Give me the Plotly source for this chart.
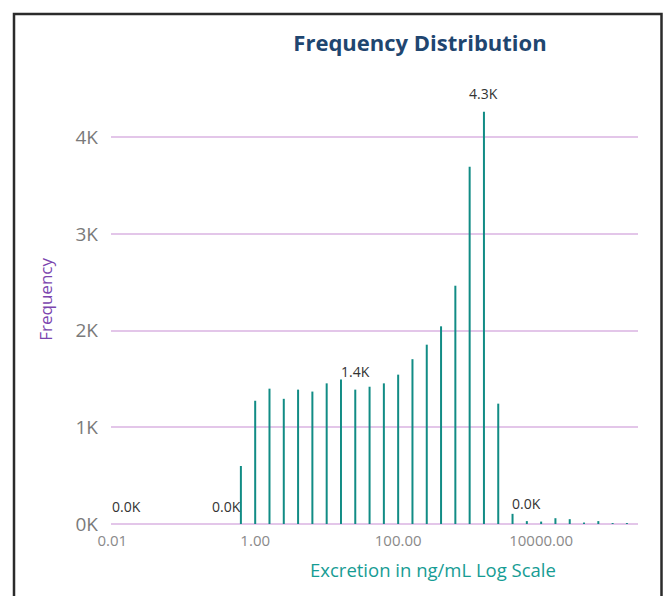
import math
import plotly.graph_objects as go

# Bin centres (ng/mL, log-spaced) and frequencies
bin_centers = [0.631, 1.0, 1.585, 2.512, 3.981, 6.31, 10.0, 15.85, 25.12, 39.81,
               63.1, 100.0, 158.5, 251.2, 398.1, 631.0, 1000.0, 1585.0, 2512.0,
               3981.0, 6310.0, 10000.0, 15849.0, 25119.0, 39811.0, 63096.0,
               100000.0, 158489.0]
frequency = [600, 1275, 1400, 1295, 1390, 1370, 1455, 1495, 1390, 1420,
             1455, 1545, 1705, 1855, 2045, 2465, 3695, 4265, 1245,
             105, 30, 25, 60, 50, 15, 30, 10, 10]

# Points carrying data labels (incl. empty bins at the low end)
label_x = [0.01585, 0.398, 25.12, 1585.0, 6310.0]
label_y = [0, 0, 1390, 4265, 30]

x_tickvals = [0.01, 1, 100, 10000]
x_ticktext = ["0.01", "1.00", "100.00", "10000.00"]
y_tickvals = [0, 1000, 2000, 3000, 4000]
y_ticktext = ["0K", "1K", "2K", "3K", "4K"]

W, H = 663, 596
ML, MR, MT, MB = 111, 25, 89, 71.5
PW, PH = W - ML - MR, H - MT - MB
BASE = MT + PH


def px_x(p):
    return (p - ML) / PW


def px_y(p):
    return (BASE - p) / PH


# vertical stick bars drawn as line segments
xs, ys = [], []
for xv, yv in zip(bin_centers, frequency):
    xs += [xv, xv, None]
    ys += [0, yv, None]

fig = go.Figure()
fig.add_trace(go.Scatter(x=xs, y=ys, mode="lines",
                         line=dict(color="#118C85", width=2),
                         hoverinfo="skip", showlegend=False))

annotations = []
for lx, ly in zip(label_x, label_y):
    annotations.append(dict(x=math.log10(lx), y=ly, xref="x", yref="y",
                            text=f"{ly/1000:.1f}K", showarrow=False,
                            yshift=18, xanchor="center", yanchor="middle",
                            font=dict(family="Open Sans", size=14, color="#333333")))

annotations.append(dict(x=px_x(433), y=px_y(570), xref="paper", yref="paper",
                        text="Excretion in ng/mL Log Scale", showarrow=False,
                        xanchor="center", yanchor="middle",
                        font=dict(family="Open Sans", size=18.5, color="#169C94")))
annotations.append(dict(x=px_x(46), y=px_y(300), xref="paper", yref="paper",
                        text="Frequency", showarrow=False, textangle=-90,
                        xanchor="center", yanchor="middle",
                        font=dict(family="Open Sans", size=17, color="#7B45AE")))

fig.update_layout(
    width=W, height=H,
    margin=dict(l=ML, r=MR, t=MT, b=MB, pad=0),
    paper_bgcolor="white", plot_bgcolor="white",
    title=dict(text="<b>Frequency Distribution</b>", x=420 / W, y=1 - 43 / H,
               xanchor="center", yanchor="middle",
               font=dict(family="Open Sans", size=22, color="#1F4670")),
    xaxis=dict(type="log", range=[-2.017, 5.355], tickvals=x_tickvals,
               ticktext=x_ticktext, showgrid=False, zeroline=False,
               showline=False, ticks="", ticklabelstandoff=6,
               tickfont=dict(family="Open Sans", size=15, color="#8a8a8a")),
    yaxis=dict(range=[0, 4500], tickvals=y_tickvals, ticktext=y_ticktext,
               showgrid=True, gridcolor="#E3C6E9", gridwidth=1.5,
               zeroline=True, zerolinecolor="#E3C6E9", zerolinewidth=1.5,
               showline=False, ticks="", ticklabelstandoff=12,
               tickfont=dict(family="Open Sans", size=19, color="#7a7a7a")),
    annotations=annotations,
    shapes=[dict(type="rect", xref="paper", yref="paper",
                 x0=px_x(14), x1=px_x(661.5), y0=px_y(620), y1=px_y(14),
                 line=dict(color="#2b2b2b", width=2.5), fillcolor="rgba(0,0,0,0)",
                 layer="above")],
)

fig.write_html("out.html")
